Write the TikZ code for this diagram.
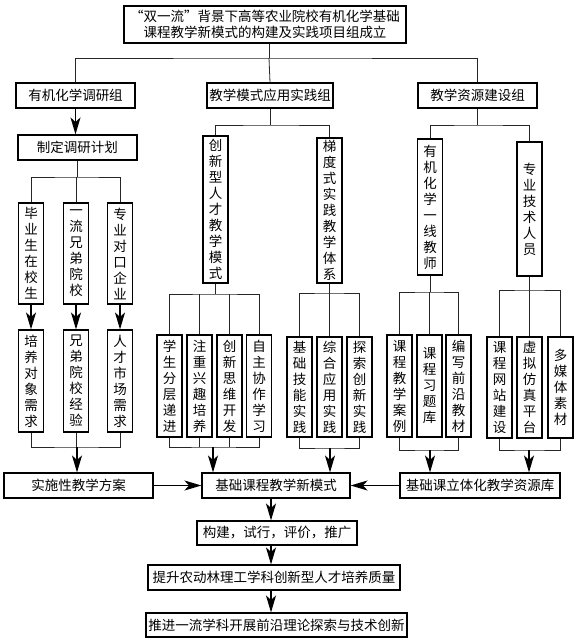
\documentclass[tikz,border=0pt]{standalone}
\usepackage{fontspec}
\setmainfont{Noto Sans CJK SC}
\usetikzlibrary{arrows.meta}

\begin{document}
\begin{tikzpicture}[x=1pt, y=-1pt,
    box/.style={draw, line width=1.1pt, inner sep=1pt, align=center, font=\fontsize{13.5}{16}\selectfont},
    hbox/.style={box, minimum height=25pt},
    vbox/.style={box, minimum width=25pt},
    link/.style={line width=0.8pt, draw=black!85},
    arr/.style={line width=1.6pt, -{Stealth[length=17pt,width=10pt,inset=4.5pt]}}]
    \useasboundingbox (0,0) rectangle (577,641);
    % Project group
    \node [hbox, minimum width=282pt, minimum height=37pt] (title) at (265,24.5) {“双一流”背景下高等农业院校有机化学基础\\课程教学新模式的构建及实践项目组成立};
    \node [hbox, minimum width=119pt] (survey) at (75.5,95.5) {有机化学调研组};
    \node [hbox, minimum width=126pt] (practice) at (270,95.5) {教学模式应用实践组};
    \node [hbox, minimum width=119pt] (resource) at (477.5,95.5) {教学资源建设组};
    \node [hbox, minimum width=119pt] (plan) at (77.5,147.5) {制定调研计划};
    % Survey branch
    \node [vbox, minimum height=101pt] (grad) at (31,253.5) {毕\\业\\生\\在\\校\\生};
    \node [vbox, minimum height=101pt] (peer) at (76,253.5) {一\\流\\兄\\弟\\院\\校};
    \node [vbox, minimum height=101pt] (firm) at (120,253.5) {专\\业\\对\\口\\企\\业};
    \node [vbox, minimum height=102pt] (need1) at (31,381) {培\\养\\对\\象\\需\\求};
    \node [vbox, minimum height=102pt] (need2) at (76,381) {兄\\弟\\院\\校\\经\\验};
    \node [vbox, minimum height=102pt] (need3) at (120,381) {人\\才\\市\\场\\需\\求};
    % Practice branch
    \node [vbox, minimum height=147pt] (talent) at (215.5,209.5) {创\\新\\型\\人\\才\\教\\学\\模\\式};
    \node [vbox, minimum height=145pt] (ladder) at (329.5,210.5) {梯\\度\\式\\实\\践\\教\\学\\体\\系};
    \node [vbox, minimum height=102pt] (mode1) at (169.5,386) {学\\生\\分\\层\\递\\进};
    \node [vbox, minimum height=102pt] (mode2) at (199.5,386) {注\\重\\兴\\趣\\培\\养};
    \node [vbox, minimum height=102pt] (mode3) at (229.5,386) {创\\新\\思\\维\\开\\发};
    \node [vbox, minimum height=102pt] (mode4) at (259,386) {自\\主\\协\\作\\学\\习};
    \node [vbox, minimum height=100pt] (step1) at (299.5,387) {基\\础\\技\\能\\实\\践};
    \node [vbox, minimum height=100pt] (step2) at (329.5,387) {综\\合\\应\\用\\实\\践};
    \node [vbox, minimum height=100pt] (step3) at (359.5,387) {探\\索\\创\\新\\实\\践};
    % Resource branch
    \node [vbox, minimum height=136pt] (teacher) at (430,207) {有\\机\\化\\学\\一\\线\\教\\师};
    \node [vbox, minimum height=134pt] (tech) at (529.5,209) {专\\业\\技\\术\\人\\员};
    \node [vbox, minimum height=102pt] (res1) at (399.5,386) {课\\程\\教\\学\\案\\例};
    \node [vbox, minimum height=102pt] (res2) at (429.5,386) {课\\程\\习\\题\\库};
    \node [vbox, minimum height=102pt] (res3) at (458.5,386) {编\\写\\前\\沿\\教\\材};
    \node [vbox, minimum height=101pt] (res4) at (499.5,387.5) {课\\程\\网\\站\\建\\设};
    \node [vbox, minimum height=101pt] (res5) at (529.5,387.5) {虚\\拟\\仿\\真\\平\\台};
    \node [vbox, minimum height=101pt] (res6) at (560.5,387.5) {多\\媒\\体\\素\\材};
    % Results
    \node [hbox, minimum width=149pt] (scheme) at (78.5,485.5) {实施性教学方案};
    \node [hbox, minimum width=148pt] (core) at (276,485.5) {基础课程教学新模式};
    \node [hbox, minimum width=160pt] (reslib) at (480,485.5) {基础课立体化教学资源库};
    \node [hbox, minimum width=160pt, minimum height=24pt] (build) at (277,533) {构建，试行，评价，推广};
    \node [hbox, minimum width=252pt] (quality) at (274,577.5) {提升农动林理工学科创新型人才培养质量};
    \node [hbox, minimum width=261pt, minimum height=24pt] (frontier) at (276.5,625) {推进一流学科开展前沿理论探索与技术创新};

    % Split and merge points
    \coordinate (top) at (269,58);
    \coordinate (plansplit) at (77.5,177);
    \coordinate (modesplit) at (270,125);
    \coordinate (ressplit) at (477.5,125);
    \coordinate (talentsplit) at (215.5,294);
    \coordinate (laddersplit) at (329.5,293);
    \coordinate (teachsplit) at (430,292);
    \coordinate (techsplit) at (529.5,290);
    \coordinate (needmerge) at (77,447);
    \coordinate (talentmerge) at (213,447);
    \coordinate (laddermerge) at (330,448);
    \coordinate (teachmerge) at (430,450);
    \coordinate (techmerge) at (529,450);
    \coordinate (spine) at (271,500);

    % Tree lines
    \draw [link] (title.south -| top) -- (top);
    \draw [link] (survey.north) |- (top) -| (resource.north);
    \draw [link] (top) -- (practice.north);
    \draw [arr] (survey.south) -- (survey.south |- plan.north);
    \draw [link] (plan.south) -- (plansplit);
    \draw [link] (grad.north) |- (plansplit) -| (firm.north);
    \draw [link] (peer.north) -- (peer.north |- plansplit);
    \draw [arr] (grad) -- (need1);
    \draw [arr] (peer) -- (need2);
    \draw [arr] (firm) -- (need3);
    \draw [link] (need1.south) |- (needmerge) -| (need3.south);
    \draw [link] (need2.south) -- (need2.south |- needmerge);
    \draw [arr] (needmerge) -- (needmerge |- scheme.north);

    \draw [link] (practice.south) -- (modesplit);
    \draw [link] (talent.north) |- (modesplit) -| (ladder.north);
    \draw [link] (talent.south) -- (talentsplit);
    \draw [link] (mode1.north) |- (talentsplit) -| (mode4.north);
    \draw [link] (mode2.north) -- (mode2.north |- talentsplit);
    \draw [link] (mode3.north) -- (mode3.north |- talentsplit);
    \draw [link] (mode1.south) |- (talentmerge) -| (mode4.south);
    \draw [link] (mode2.south) -- (mode2.south |- talentmerge);
    \draw [link] (mode3.south) -- (mode3.south |- talentmerge);
    \draw [arr] (talentmerge) -- (talentmerge |- core.north);
    \draw [link] (ladder.south) -- (laddersplit);
    \draw [link] (step1.north) |- (laddersplit) -| (step3.north);
    \draw [link] (step2.north) -- (laddersplit);
    \draw [link] (step1.south) |- (laddermerge) -| (step3.south);
    \draw [arr] (laddermerge) -- (laddermerge |- core.north);

    \draw [link] (resource.south) -- (ressplit);
    \draw [link] (teacher.north) |- (ressplit) -| (tech.north);
    \draw [link] (teacher.south) -- (teachsplit);
    \draw [link] (res1.north) |- (teachsplit) -| (res3.north);
    \draw [link] (res2.north) -- (res2.north |- teachsplit);
    \draw [link] (res1.south) |- (teachmerge) -| (res3.south);
    \draw [arr] (teachmerge) -- (teachmerge |- reslib.north);
    \draw [link] (tech.south) -- (techsplit);
    \draw [link] (res4.north) |- (techsplit) -| (res6.north);
    \draw [link] (res5.north) -- (techsplit);
    \draw [link] (res4.south) |- (techmerge) -| (res6.south);
    \draw [arr] (techmerge) -- (techmerge |- reslib.north);

    % Results chain
    \draw [arr] (scheme) -- (core);
    \draw [arr] (reslib) -- (core);
    \draw [arr] (core.south -| spine) -- (build.north -| spine);
    \draw [arr] (build.south -| spine) -- (quality.north -| spine);
    \draw [arr] (quality.south -| spine) -- (frontier.north -| spine);
\end{tikzpicture}
\end{document}
